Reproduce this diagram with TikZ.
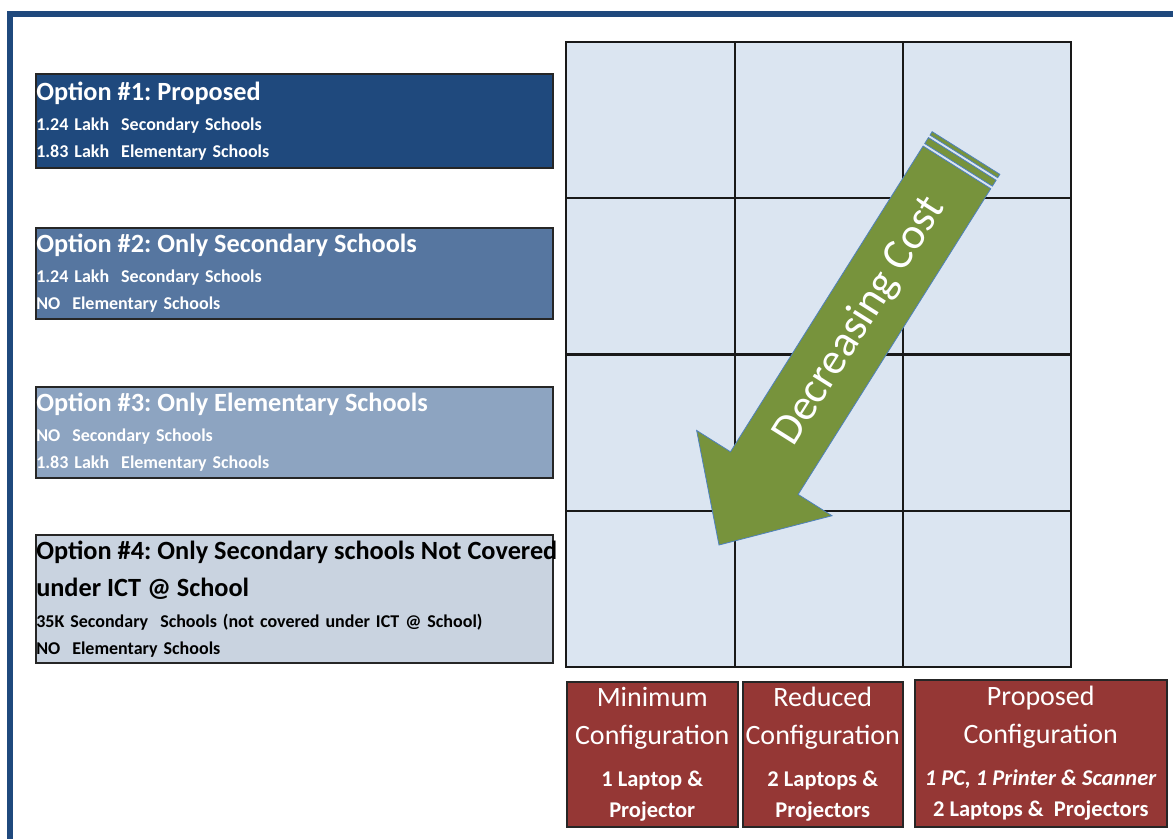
\documentclass[tikz,border=0pt]{standalone}
\usepackage{fontspec}
\setmainfont{Carlito}
\usetikzlibrary{calc}
\frenchspacing

\definecolor{frameblue}{HTML}{1F497D}
\definecolor{optone}{HTML}{1F497D}
\definecolor{opttwo}{HTML}{5676A0}
\definecolor{optthree}{HTML}{8DA4C1}
\definecolor{optfour}{HTML}{C9D3E0}
\definecolor{gridfill}{HTML}{DBE5F1}
\definecolor{cfgred}{HTML}{953735}
\definecolor{arrowgreen}{HTML}{77933C}
\definecolor{arrowline}{HTML}{4F81BD}

\newcommand{\opttitle}[1]{{\fontsize{26.3}{30}\selectfont #1}}
\newcommand{\cfgtitle}[1]{{\fontsize{28}{30}\selectfont\mdseries #1}}

\tikzset{
  optbox/.style={draw=black!85, line width=1.5pt, anchor=north west,
    text width=516pt, inner xsep=0.5pt, align=left, text=white,
    font=\fontsize{18}{27}\selectfont\bfseries},
  cfgbox/.style={draw=black!85, line width=1.5pt, fill=cfgred, anchor=north west,
    inner sep=0pt, align=center, text=white,
    font=\fontsize{22.5}{31}\selectfont\bfseries},
  gridline/.style={draw=black!90, line width=1.6pt}
}

\begin{document}
\begin{tikzpicture}[x=1pt, y=-1pt]
\useasboundingbox (0,0) rectangle (1173,839);

% page frame
\fill[frameblue] (7,11) rectangle (1173,17);
\fill[frameblue] (7,11) rectangle (13,839);

% the 3 x 4 grid
    \pgfmathsetmacro{\gridx}{566}
    \pgfmathsetmacro{\gridy}{42}
    \pgfmathsetmacro{\gridw}{505}
    \pgfmathsetmacro{\gridh}{625}
\fill[gridfill] (\gridx,\gridy) rectangle ++(\gridw,\gridh);
\draw[gridline] (\gridx,\gridy) rectangle ++(\gridw,\gridh);
\draw[gridline] (735,\gridy) -- ++(0,\gridh);
\draw[gridline] (903,\gridy) -- ++(0,\gridh);
\draw[gridline] (\gridx,198) -- ++(\gridw,0);
\draw[gridline] (\gridx,511) -- ++(\gridw,0);
\draw[gridline, line width=3pt] (\gridx,354) -- ++(\gridw,0);

% the options
\node[optbox, fill=optone, minimum height=94pt] (optA) at (35,73)
  {\opttitle{Option \#1: Proposed}\\[3pt]
   1.24 Lakh\ \ Secondary Schools\\
   1.83 Lakh\ \ Elementary Schools};
\node[optbox, fill=opttwo, minimum height=91pt] (optB) at (35,227)
  {\opttitle{Option \#2: Only Secondary Schools}\\[3pt]
   1.24 Lakh\ \ Secondary Schools\\
   NO\ \ Elementary Schools};
\node[optbox, fill=optthree, minimum height=91pt] (optC) at (35,386)
  {\opttitle{Option \#3: Only Elementary Schools}\\[3pt]
   NO\ \ Secondary Schools\\
   1.83 Lakh\ \ Elementary Schools};
\node[optbox, fill=optfour, text=black, minimum height=128pt] (optD) at (35,534)
  {\opttitle{\mbox{Option \#4: Only Secondary schools Not Covered}}\\[10pt]
   \opttitle{under ICT @ School}\\[4pt]
   35K Secondary\ \ Schools (not covered under ICT @ School)\\
   NO\ \ Elementary Schools};

% the configurations
\node[cfgbox, minimum width=171pt, minimum height=145pt] (cfgMin) at (566,681)
  {\cfgtitle{Minimum}\\[7pt]
   \cfgtitle{Configuration}\\[11pt]
   1 Laptop \&\\
   Projector};
\node[cfgbox, minimum width=160pt, minimum height=145pt] (cfgRed) at (742,681)
  {\cfgtitle{Reduced}\\[7pt]
   \cfgtitle{Configuration}\\[11pt]
   2 Laptops \&\\
   Projectors};
\node[cfgbox, minimum width=252pt, minimum height=147pt] (cfgProp) at (914,679)
  {\cfgtitle{Proposed}\\[7pt]
   \cfgtitle{Configuration}\\[11pt]
   \textit{1 PC, 1 Printer \& Scanner}\\
   2 Laptops \&\ \ Projectors};

% decreasing cost arrow
\coordinate (tail) at (966,153);
\coordinate (tip) at (719,545);
\coordinate (neck) at ($(tip)!85pt!(tail)$);
\coordinate (shaft) at ($(tail)!17pt!(tip)$);
\coordinate (stripeA) at ($(tail)!4pt!(tip)$);
\coordinate (stripeB) at ($(tail)!7pt!(tip)$);
\coordinate (stripeC) at ($(tail)!14pt!(tip)$);
\filldraw[fill=arrowgreen, draw=arrowline, line width=0.8pt]
  ($(shaft)!40pt!90:(tip)$) -- ($(neck)!40pt!90:(tip)$) -- ($(neck)!80pt!90:(tip)$)
  -- (tip) -- ($(neck)!80pt!-90:(tip)$) -- ($(neck)!40pt!-90:(tip)$)
  -- ($(shaft)!40pt!-90:(tip)$) -- cycle;
\filldraw[fill=arrowgreen, draw=arrowline, line width=0.8pt]
  ($(tail)!40pt!90:(tip)$) -- ($(stripeA)!40pt!90:(tip)$)
  -- ($(stripeA)!40pt!-90:(tip)$) -- ($(tail)!40pt!-90:(tip)$) -- cycle;
\filldraw[fill=arrowgreen, draw=arrowline, line width=0.8pt]
  ($(stripeB)!40pt!90:(tip)$) -- ($(stripeC)!40pt!90:(tip)$)
  -- ($(stripeC)!40pt!-90:(tip)$) -- ($(stripeB)!40pt!-90:(tip)$) -- cycle;

    % Label for the arrow
    \node[rotate=57.8, text=white, font=\fontsize{44}{46}\selectfont] (costlabel)
      at ($(tail)!199pt!(tip)$) {Decreasing Cost};

\end{tikzpicture}
\end{document}
